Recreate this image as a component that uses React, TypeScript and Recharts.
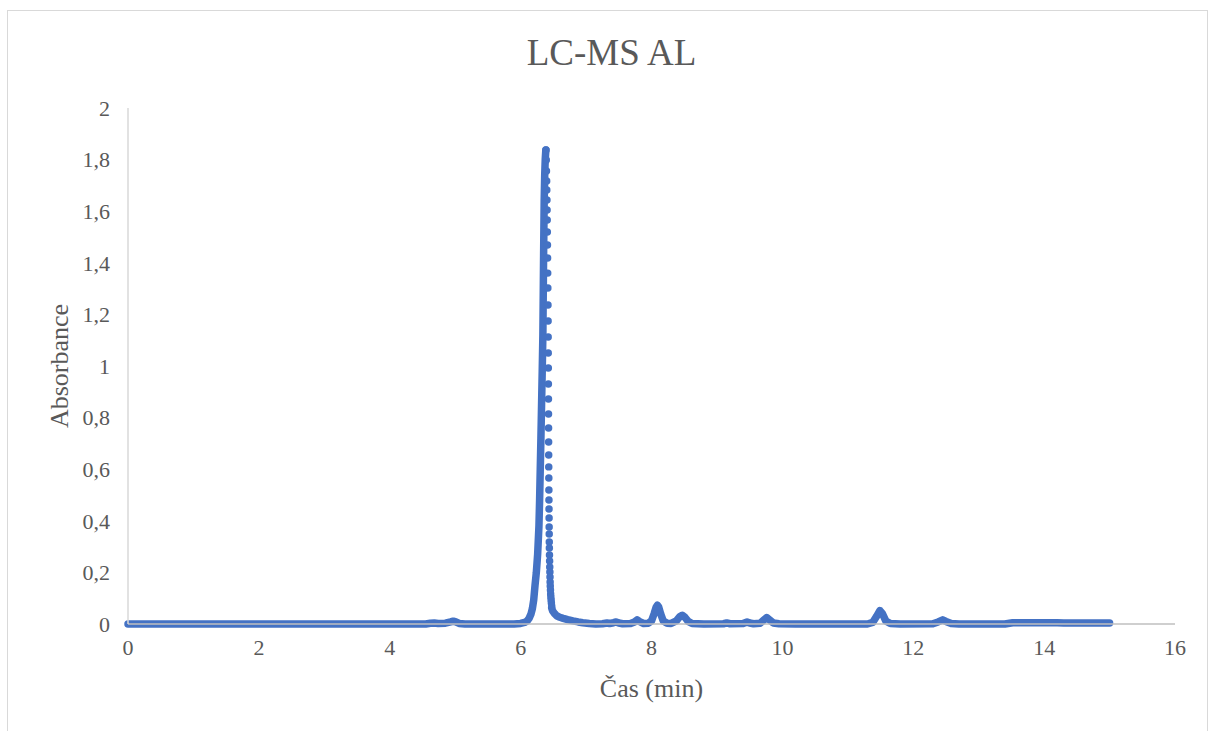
import * as React from "react"
import { ComposedChart, Line, Scatter, XAxis, YAxis, ZAxis } from "recharts"

// Excel-style palette
const BLUE = "#4472C4"
const TEXT = "#595959"
const FONT = '"Liberation Serif", "Times New Roman", serif'

const xTicks = [0, 2, 4, 6, 8, 10, 12, 14, 16]
const yTicks = [0, 0.2, 0.4, 0.6, 0.8, 1, 1.2, 1.4, 1.6, 1.8, 2]

// baseline + rising edge of the main peak (samples so dense they merge into a band)
const riseTime = [
  0, 2, 4, 4.55, 4.62, 4.68, 4.74, 4.85, 4.93, 4.97, 5.01, 5.06, 5.15, 5.6, 5.9,
  6.0, 6.06, 6.1, 6.13, 6.16, 6.18, 6.2, 6.22, 6.24, 6.26, 6.28, 6.29, 6.3, 6.31,
  6.32, 6.33, 6.34, 6.345, 6.35, 6.355, 6.36, 6.368, 6.376, 6.385,
]
const riseAbs = [
  0, 0, 0, 0, 0.003, 0.004, 0.002, 0.003, 0.008, 0.011, 0.008, 0.002, 0, 0, 0,
  0.002, 0.006, 0.012, 0.022, 0.04, 0.06, 0.093, 0.15, 0.2, 0.27, 0.38, 0.48, 0.6, 0.72,
  0.85, 0.98, 1.12, 1.26, 1.4, 1.52, 1.64, 1.74, 1.8, 1.837,
]

// falling edge, where the single samples are visible as separate dots
const fallTime = [
  6.388, 6.392, 6.395, 6.398, 6.4, 6.402, 6.404, 6.406, 6.408, 6.41, 6.412, 6.414,
  6.416, 6.418, 6.42, 6.421, 6.422, 6.423, 6.424, 6.425, 6.426, 6.427, 6.428, 6.429,
  6.43, 6.431, 6.432, 6.433, 6.434, 6.435, 6.436, 6.437, 6.438, 6.439, 6.441, 6.443,
  6.445, 6.447, 6.449, 6.451, 6.453, 6.456, 6.459, 6.462, 6.466, 6.47, 6.475,
]
const fallAbs = [
  1.837, 1.798, 1.756, 1.717, 1.682, 1.643, 1.605, 1.566, 1.519, 1.469, 1.419, 1.36,
  1.302, 1.236, 1.174, 1.112, 1.05, 0.992, 0.93, 0.872, 0.814, 0.76, 0.705, 0.655,
  0.609, 0.566, 0.519, 0.481, 0.446, 0.411, 0.376, 0.349, 0.318, 0.295, 0.267, 0.244,
  0.221, 0.202, 0.182, 0.163, 0.147, 0.132, 0.116, 0.105, 0.093, 0.081, 0.07,
]

// tail and the small peaks after the main one
const tailTime = [
  6.475, 6.49, 6.52, 6.55, 6.6, 6.65, 6.72, 6.8, 6.88, 6.95, 7.05, 7.15, 7.25, 7.32,
  7.36, 7.42, 7.46, 7.5, 7.56, 7.68, 7.74, 7.78, 7.82, 7.88, 7.95, 8.0, 8.04, 8.07,
  8.09, 8.11, 8.14, 8.18, 8.24, 8.3, 8.38, 8.43, 8.47, 8.51, 8.56, 8.62, 8.8, 9.1,
  9.15, 9.2, 9.4, 9.46, 9.5, 9.56, 9.66, 9.71, 9.76, 9.8, 9.86, 9.95, 10.2, 11.3,
  11.38, 11.44, 11.49, 11.53, 11.58, 11.65, 11.8, 12.3, 12.38, 12.45, 12.5, 12.58,
  12.7, 13.4, 13.52, 14.2, 14.3, 15.0,
]
const tailAbs = [
  0.062, 0.05, 0.04, 0.032, 0.026, 0.022, 0.017, 0.012, 0.008, 0.005, 0.002, 0, 0.001, 0.004,
  0.002, 0.005, 0.008, 0.004, 0.001, 0.002, 0.008, 0.016, 0.009, 0.002, 0.003, 0.012, 0.04, 0.065,
  0.073, 0.066, 0.04, 0.012, 0.003, 0.002, 0.012, 0.028, 0.034, 0.026, 0.01, 0.002, 0, 0.001,
  0.004, 0.001, 0.002, 0.008, 0.004, 0.001, 0.003, 0.014, 0.025, 0.017, 0.004, 0.001, 0, 0,
  0.006, 0.03, 0.052, 0.04, 0.012, 0.002, 0, 0.001, 0.008, 0.016, 0.01, 0.002,
  0, 0, 0.005, 0.005, 0.004, 0.004,
]

const toPoints = (t: number[], a: number[]) => t.map((x, i) => ({ x, y: a[i] }))

const fmt = (v: number) => String(v).replace(".", ",")

const risePts = toPoints(riseTime, riseAbs)
const fallPts = toPoints(fallTime, fallAbs)
const tailPts = toPoints(tailTime, tailAbs)

export default function App() {
  return (
    <div style={{ position: "absolute", left: 0, top: 0, width: 1208, height: 731, fontFamily: FONT, background: "#fff", overflow: "hidden" }}>
      <div
        style={{
          position: "absolute",
          left: 7,
          top: 10,
          width: 1201,
          height: 740,
          border: "1px solid #d9d9d9",
          boxSizing: "border-box",
        }}
      />
      <div style={{ position: "absolute", left: 0, width: 1223, top: 33, textAlign: "center", fontSize: 37, color: TEXT, lineHeight: "40px" }}>
        LC-MS AL
      </div>
      <div style={{ position: "absolute", left: 0, width: 1303, top: 674, textAlign: "center", fontSize: 26, color: TEXT, lineHeight: "30px" }}>
        Čas (min)
      </div>
      <div
        style={{
          position: "absolute",
          left: 60 - 100,
          top: 366 - 15,
          width: 200,
          textAlign: "center",
          fontSize: 26,
          color: TEXT,
          lineHeight: "30px",
          transform: "rotate(-90deg)",
        }}
      >
        Absorbance
      </div>
      <div style={{ position: "absolute", left: 0, top: 0 }}>
        <ComposedChart width={1208} height={731} margin={{ top: 108, right: 33, bottom: 77, left: 68 }}>
          <XAxis
            type="number"
            dataKey="x"
            domain={[0, 16]}
            ticks={xTicks}
            interval={0}
            tickLine={false}
            tickMargin={9}
            axisLine={{ stroke: "#bfbfbf", strokeWidth: 1.5 }}
            tick={{ fill: TEXT, fontSize: 22, fontFamily: FONT }}
            height={30}
            allowDuplicatedCategory={false}
          />
          <YAxis
            type="number"
            dataKey="y"
            domain={[0, 2]}
            ticks={yTicks}
            interval={0}
            tickLine={false}
            tickMargin={12}
            tickFormatter={fmt}
            axisLine={{ stroke: "#d9d9d9", strokeWidth: 1.5 }}
            tick={{ fill: TEXT, fontSize: 22, fontFamily: FONT }}
            width={60}
          />
          <ZAxis range={[44, 44]} />
          <Line
            data={risePts}
            dataKey="y"
            type="linear"
            stroke={BLUE}
            strokeWidth={7.5}
            strokeLinejoin="round"
            strokeLinecap="round"
            dot={false}
            activeDot={false}
            isAnimationActive={false}
          />
          <Line
            data={tailPts}
            dataKey="y"
            type="linear"
            stroke={BLUE}
            strokeWidth={7.5}
            strokeLinejoin="round"
            strokeLinecap="round"
            dot={false}
            activeDot={false}
            isAnimationActive={false}
          />
          <Scatter data={fallPts} dataKey="y" fill={BLUE} isAnimationActive={false} />
        </ComposedChart>
      </div>
    </div>
  )
}
